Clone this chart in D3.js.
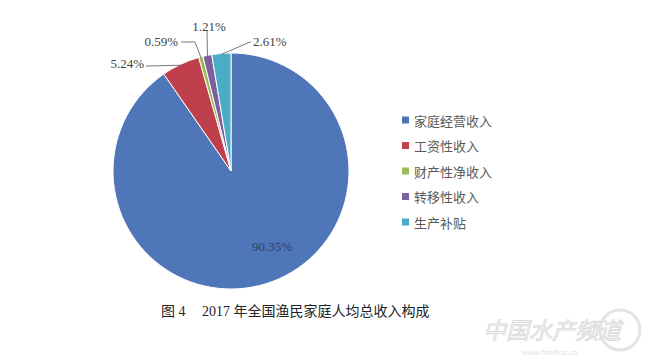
<!DOCTYPE html>
<html><head><meta charset="utf-8">
<script src="https://cdn.jsdelivr.net/npm/d3@7"></script>
<style>html,body{margin:0;padding:0;background:#fff;}svg{display:block;}</style>
</head><body>
<svg id="chart" width="650" height="361"></svg>
<script>
const categories = ["家庭经营收入", "工资性收入", "财产性净收入", "转移性收入", "生产补贴"];
const values = [90.35, 5.24, 0.59, 1.21, 2.61];
const colors = ["#4F76B9", "#BF3F4C", "#9BBB59", "#7D5FA0", "#4BACC6"];
const titleFig = "图 4";
const titleText = "2017 年全国渔民家庭人均总收入构成";

// label layout (positions of value labels relative to pie centre, and leader elbows)
const labelLayout = [
  {x: 41, y: 75, anchor: "middle", elbow: null},
  {x: -87, y: -108, anchor: "end", elbow: [-83, -105]},
  {x: -53, y: -130, anchor: "end", elbow: [-36, -129]},
  {x: -22, y: -145, anchor: "middle", elbow: [-24, -138]},
  {x: 22, y: -130, anchor: "start", elbow: [19, -129]}
];

const svg = d3.select("#chart");
const cx = 231, cy = 171, r = 118;
const g = svg.append("g").attr("transform", `translate(${cx},${cy})`);

const pie = d3.pie().sort(null).value(d => d)(values);
const arc = d3.arc().innerRadius(0).outerRadius(r);
const color = d3.scaleOrdinal().domain(categories).range(colors);

g.selectAll("path.slice").data(pie).join("path")
  .attr("class", "slice")
  .attr("d", arc)
  .attr("fill", (d, i) => color(categories[i]))
  .attr("stroke", "#fff").attr("stroke-width", 1);

const fmt = v => v.toFixed(2) + "%";

pie.forEach((d, i) => {
  const L = labelLayout[i];
  if (L.elbow) {
    const a = (d.startAngle + d.endAngle) / 2;
    const ax = Math.sin(a) * (r - 1), ay = -Math.cos(a) * (r - 1);
    g.append("polyline")
      .attr("points", [L.elbow, [ax, ay]].map(p => p.join(",")).join(" "))
      .attr("fill", "none").attr("stroke", "#6a6a6a").attr("stroke-width", 0.9);
  }
  g.append("text")
    .attr("x", L.x).attr("y", L.y)
    .attr("text-anchor", L.anchor)
    .attr("dominant-baseline", "central")
    .attr("font-family", "'Liberation Serif', 'Times New Roman', serif")
    .attr("font-size", 13)
    .attr("fill", i === 0 ? "#2f3f5f" : "#444")
    .text(fmt(values[i]));
});

// short leader segments from label edge to elbow
const leaderStarts = [null, [-85, -105], [-50, -129], [-24, -140], [20, -129]];
leaderStarts.forEach((s, i) => {
  if (!s) return;
  const e = labelLayout[i].elbow;
  g.append("line").attr("x1", s[0]).attr("y1", s[1]).attr("x2", e[0]).attr("y2", e[1])
    .attr("stroke", "#6a6a6a").attr("stroke-width", 0.9);
});

// legend
const legend = svg.append("g").attr("transform", "translate(402,120)");
const ly = d3.scalePoint().domain(categories).range([0, 102]);
const items = legend.selectAll("g").data(categories).join("g")
  .attr("transform", d => `translate(0,${ly(d)})`);
items.append("rect").attr("x", 0).attr("y", -3.5).attr("width", 7).attr("height", 7)
  .attr("fill", d => color(d));
items.append("text").attr("x", 12).attr("y", 0)
  .attr("dominant-baseline", "central")
  .attr("font-family", "'Noto Sans CJK SC', sans-serif")
  .attr("font-size", 13).attr("fill", "#5a5a5a")
  .text(d => d);

// title
svg.append("text").attr("x", 161).attr("y", 311).attr("dominant-baseline", "central")
  .attr("font-family", "'Liberation Serif', 'Noto Sans CJK SC', serif")
  .attr("font-size", 14).attr("fill", "#222").text(titleFig);
svg.append("text").attr("x", 202).attr("y", 311).attr("dominant-baseline", "central")
  .attr("font-family", "'Liberation Serif', 'Noto Sans CJK SC', serif")
  .attr("font-size", 14).attr("fill", "#222").text(titleText);

// watermark
const wm = svg.append("g").attr("opacity", 0.9);
wm.append("circle").attr("cx", 620).attr("cy", 330).attr("r", 20)
  .attr("fill", "none").attr("stroke", "#e2e2e2").attr("stroke-width", 3);
wm.append("text").attr("x", 483).attr("y", 339)
  .attr("font-family", "'Noto Sans CJK SC', sans-serif").attr("font-style", "italic")
  .attr("font-size", 23).attr("fill", "#f2f2f2").attr("stroke", "#d6d6d6").attr("stroke-width", 0.8)
  .text("中国水产频道");
wm.append("text").attr("x", 522).attr("y", 355)
  .attr("font-family", "'DejaVu Sans', sans-serif").attr("font-size", 7)
  .attr("fill", "#dcdcdc").text("www.fishfirst.cn");
</script>
</body></html>
